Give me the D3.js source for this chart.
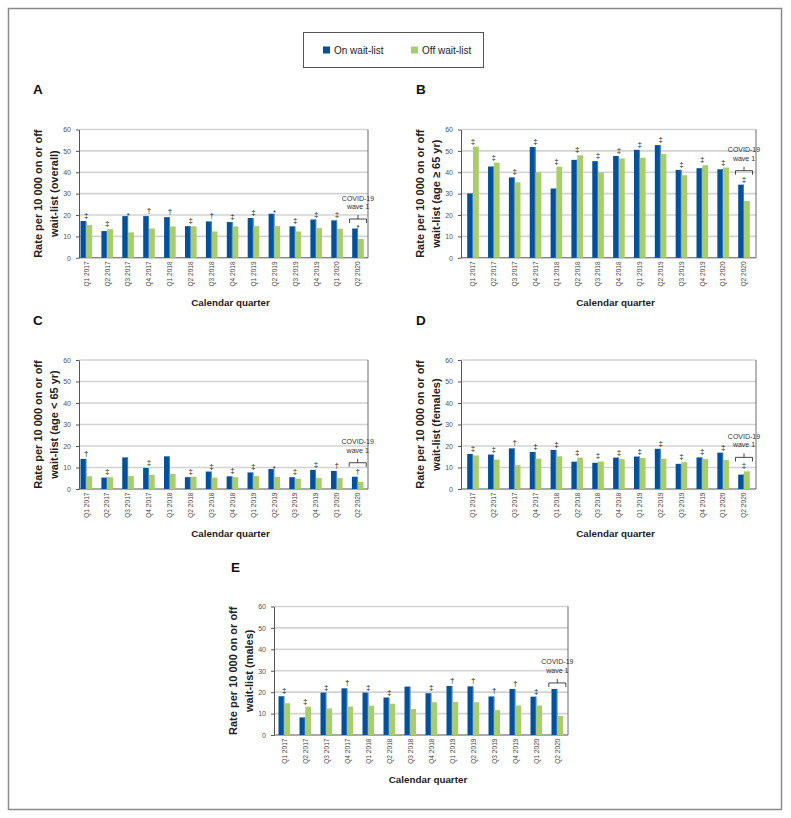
<!DOCTYPE html>
<html><head><meta charset="utf-8">
<script src="https://cdn.jsdelivr.net/npm/d3@7"></script>
<style>
html,body{margin:0;padding:0;background:#fff;}
svg{display:block;font-family:"Liberation Sans",Arial,Helvetica,sans-serif;}
</style></head>
<body>
<svg id="chart" width="791" height="818"></svg>
<script>
// ---------- data ----------
const quarters = ["Q1 2017","Q2 2017","Q3 2017","Q4 2017","Q1 2018","Q2 2018","Q3 2018","Q4 2018","Q1 2019","Q2 2019","Q3 2019","Q4 2019","Q1 2020","Q2 2020"];
const seriesNames = ["On wait-list","Off wait-list"];
const yTicks = [0,10,20,30,40,50,60];

const overallOn  = [17.2,12.5,19.5,19.5,19.0,14.8,17.0,16.7,18.6,20.6,14.7,17.9,17.5,13.7];
const overallOff = [15.3,13.4,11.9,13.7,14.7,14.7,12.3,14.7,14.8,14.8,12.3,13.9,13.6,8.8];
const overallMarks = ["‡","‡","*","†","†","‡","†","‡","‡","*","‡","‡","‡","*"];

const olderOn  = [30.1,42.7,37.6,51.8,32.4,45.8,45.2,47.6,50.5,52.7,41.1,41.9,41.4,34.2];
const olderOff = [52.0,44.5,35.3,40.0,42.6,47.9,39.8,46.5,46.8,48.5,38.6,43.3,42.2,26.6];
const olderMarks = ["‡","‡","‡","‡","‡","‡","‡","‡","‡","‡","‡","‡","‡","‡"];

const youngerOn  = [14.0,5.3,14.7,9.8,15.2,5.5,8.1,5.9,7.7,9.3,5.5,8.9,8.4,5.7];
const youngerOff = [5.9,5.5,6.0,6.6,7.0,5.7,5.3,5.5,6.0,5.6,4.8,5.1,5.1,3.3];
const youngerMarks = ["†","‡","","‡","","‡","‡","‡","‡","*","‡","‡","†","†"];

const femalesOn  = [16.3,16.0,18.9,17.2,18.2,12.7,12.2,14.6,15.1,18.7,11.7,14.7,16.9,6.7];
const femalesOff = [15.6,13.7,11.1,14.1,15.2,14.6,12.8,13.9,14.4,14.1,12.5,13.9,13.5,8.2];
const femalesMarks = ["‡","‡","†","‡","‡","‡","‡","‡","‡","‡","‡","‡","‡","‡"];

const malesOn  = [18.1,8.2,19.8,21.8,19.8,17.5,22.6,19.5,22.9,22.7,18.0,21.5,17.9,21.5];
const malesOff = [14.8,13.2,12.4,13.3,13.7,14.6,12.1,15.3,15.4,15.3,11.6,13.8,13.8,8.9];
const malesMarks = ["‡","‡","‡","†","‡","‡","","‡","†","†","†","†","‡",""];

const yTitleLine1 = "Rate per 10 000 on or off";
const xTitle = "Calendar quarter";
const covidLabel = ["COVID-19","wave 1"];
const covidQuarter = "Q2 2020";

// ---------- layout ----------
const colors = {on:"#03519a", onEdge:"#4a86c2", off:"#a8cd6c"};
const panels = [
  {letter:"A", sub:"wait-list (overall)",       on:overallOn, off:overallOff, marks:overallMarks, L:79,  R:368, T:129.5, B:257.8, c0:86.3, c1:358,   lx:33,  ly:94},
  {letter:"B", sub:"wait-list (age \u2265 65 yr)", on:olderOn,   off:olderOff,   marks:olderMarks,   L:461, R:756, T:129.5, B:257.8, c0:473,  c1:744,   lx:416, ly:94},
  {letter:"C", sub:"wait-list (age < 65 yr)",   on:youngerOn, off:youngerOff, marks:youngerMarks, L:79,  R:368, T:360,   B:489,   c0:86.3, c1:357.7, lx:33,  ly:325},
  {letter:"D", sub:"wait-list (females)",       on:femalesOn, off:femalesOff, marks:femalesMarks, L:461, R:756, T:360,   B:489,   c0:473,  c1:744,   lx:416, ly:325},
  {letter:"E", sub:"wait-list (males)",         on:malesOn,   off:malesOff,   marks:malesMarks,   L:274, R:568, T:606.5, B:735,   c0:284.3,c1:557.3, lx:231, ly:572}
];
const bw = 5.8;

const svg = d3.select("#chart");

// outer frame
svg.append("rect").attr("x",8.5).attr("y",8.5).attr("width",773).attr("height",801)
  .attr("fill","none").attr("stroke","#8a8a8a").attr("stroke-width",1.5);

// legend
const lg = svg.append("g");
lg.append("rect").attr("x",303.5).attr("y",32.5).attr("width",180).attr("height",35)
  .attr("fill","#fff").attr("stroke","#555").attr("stroke-width",1);
const legendItems = [{name:seriesNames[0], c:colors.on, x:323},{name:seriesNames[1], c:colors.off, x:411}];
legendItems.forEach(it=>{
  lg.append("rect").attr("x",it.x).attr("y",46.5).attr("width",7).attr("height",7).attr("fill",it.c);
  lg.append("text").attr("x",it.x+11).attr("y",53.5).attr("font-size",10).attr("fill","#222").text(it.name);
});

panels.forEach(p=>{
  const g = svg.append("g");
  const x = d3.scalePoint().domain(quarters).range([p.c0,p.c1]);
  const y = d3.scaleLinear().domain([0,60]).range([p.B,p.T]);

  g.append("text").attr("x",p.lx).attr("y",p.ly).attr("font-size",13.5).attr("font-weight","bold")
    .attr("fill","#111").text(p.letter);

  g.selectAll("line.grid").data(yTicks.filter(d=>d>0)).join("line")
    .attr("x1",p.L).attr("x2",p.R).attr("y1",d=>y(d)).attr("y2",d=>y(d))
    .attr("stroke","#d3d3d3").attr("stroke-width",1.6);

  g.append("line").attr("x1",p.R).attr("x2",p.R).attr("y1",p.T).attr("y2",p.B)
    .attr("stroke","#6a6a6a").attr("stroke-width",1);

  const ya = g.append("g").attr("transform",`translate(${p.L},0)`)
    .call(d3.axisLeft(y).tickValues(yTicks).tickSize(3).tickSizeOuter(0).tickPadding(5));
  ya.select(".domain").attr("stroke","#555");
  ya.selectAll(".tick line").attr("stroke","#555");
  ya.selectAll(".tick text").attr("font-size",7).attr("fill","#555")
    .attr("font-family","'Liberation Sans',Arial,sans-serif");

  g.append("line").attr("x1",p.L).attr("x2",p.R).attr("y1",p.B).attr("y2",p.B)
    .attr("stroke","#555").attr("stroke-width",1);

  const rows = quarters.map((q,i)=>({q, on:p.on[i], off:p.off[i], mark:p.marks[i]}));
  g.selectAll("rect.on").data(rows).join("rect")
    .attr("x",d=>x(d.q)-bw).attr("y",d=>y(d.on)).attr("width",bw).attr("height",d=>p.B-y(d.on))
    .attr("fill",colors.on);
  g.selectAll("rect.onedge").data(rows).join("rect")
    .attr("x",d=>x(d.q)-0.9).attr("y",d=>y(d.on)).attr("width",0.9).attr("height",d=>p.B-y(d.on))
    .attr("fill",colors.onEdge);
  g.selectAll("rect.off").data(rows).join("rect")
    .attr("x",d=>x(d.q)).attr("y",d=>y(d.off)).attr("width",bw).attr("height",d=>p.B-y(d.off))
    .attr("fill",colors.off);

  rows.forEach(d=>{
    const top = y(Math.max(d.on,d.off));
    if(d.mark){
      const isStar = d.mark==="*";
      g.append("text").attr("x",x(d.q)).attr("y",isStar? top+1.5 : top-3)
        .attr("text-anchor","middle").attr("font-size",isStar?7.5:8).attr("fill","#222").text(d.mark);
    }
    if(d.q===covidQuarter){
      const off = !d.mark ? 6 : (d.mark==="*" ? 9.5 : 14);
      const by = top-off, cx = x(d.q), hw = 8.5;
      g.append("path").attr("d",`M${cx-hw},${by+4}V${by}H${cx+hw}V${by+4}M${cx},${by}V${by-4}`)
        .attr("fill","none").attr("stroke","#333").attr("stroke-width",0.9);
      g.append("text").attr("x",cx).attr("y",by-10).attr("text-anchor","middle")
        .attr("font-size",7).attr("fill","#333").text(covidLabel[1]);
      g.append("text").attr("x",cx).attr("y",by-18.5).attr("text-anchor","middle")
        .attr("font-size",7).attr("fill","#333").text(covidLabel[0]);
    }
  });

  g.selectAll("text.xl").data(quarters).join("text")
    .attr("transform",d=>`translate(${x(d)},${p.B+3.5}) rotate(-90)`)
    .attr("text-anchor","end").attr("dy","0.35em").attr("font-size",6.6).attr("fill","#444").text(d=>d);

  g.append("text").attr("x",(p.L+p.R)/2+7).attr("y",p.B+48).attr("text-anchor","middle")
    .attr("font-size",9.8).attr("font-weight","bold").attr("fill","#222").text(xTitle);

  const yc = (p.T+p.B)/2;
  [[yTitleLine1,p.L-41],[p.sub,p.L-25]].forEach(([t,xx])=>{
    g.append("text").attr("transform",`translate(${xx},${yc}) rotate(-90)`)
      .attr("text-anchor","middle").attr("dy","0.35em").attr("font-size",11).attr("font-weight","bold")
      .attr("fill","#222").text(t);
  });
});
</script>
</body></html>
